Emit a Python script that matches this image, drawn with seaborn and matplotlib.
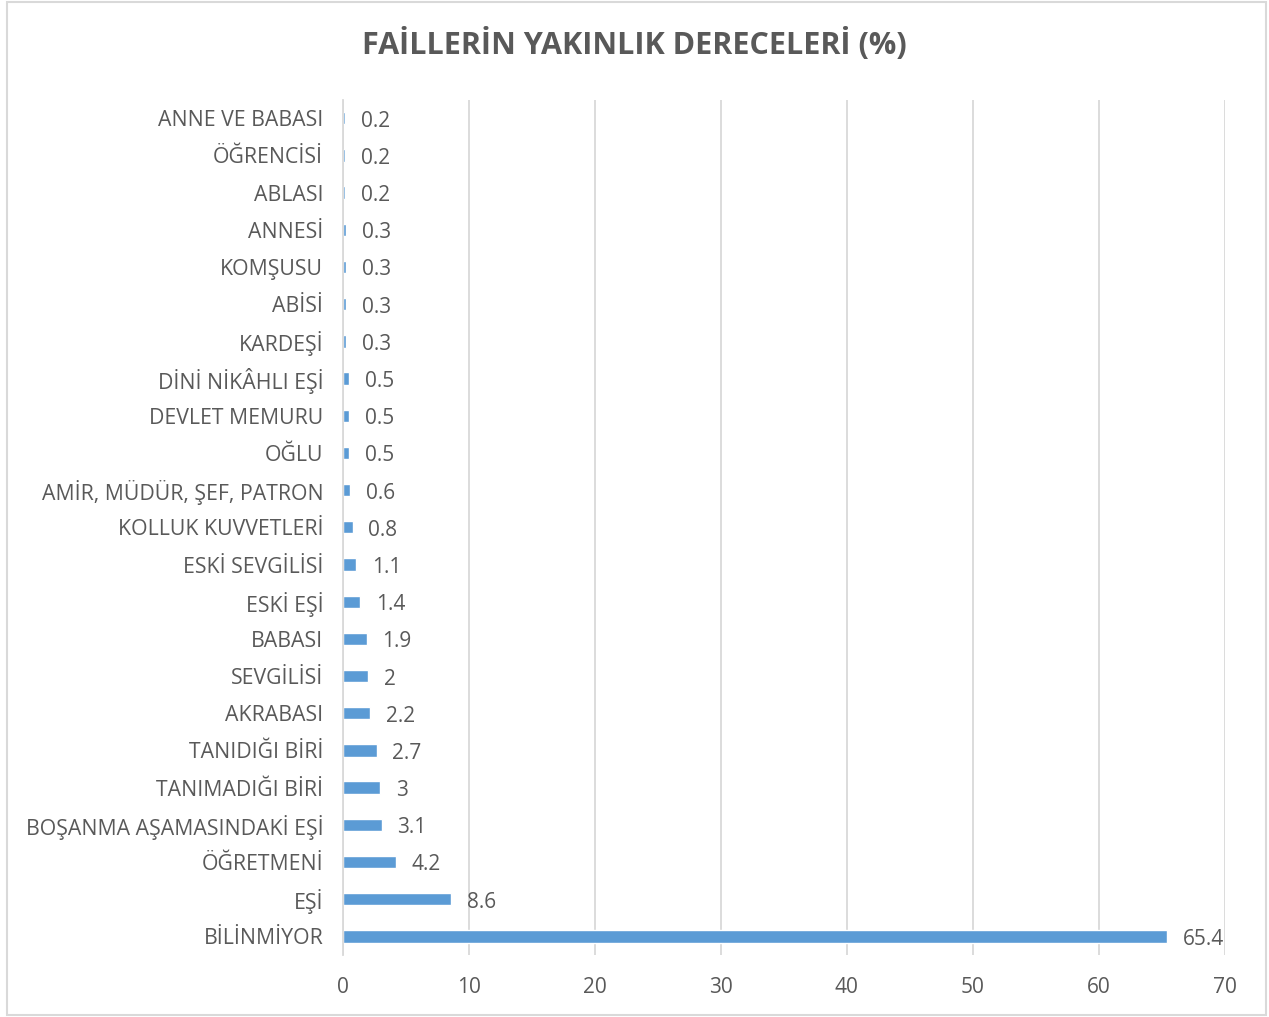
import matplotlib
matplotlib.use("Agg")
import matplotlib.pyplot as plt
import seaborn as sns
import pandas as pd

# categories top to bottom as in the chart
kategoriler = ["ANNE VE BABASI", "ÖĞRENCİSİ", "ABLASI", "ANNESİ", "KOMŞUSU", "ABİSİ",
               "KARDEŞİ", "DİNİ NİKÂHLI EŞİ", "DEVLET MEMURU", "OĞLU",
               "AMİR, MÜDÜR, ŞEF, PATRON", "KOLLUK KUVVETLERİ", "ESKİ SEVGİLİSİ",
               "ESKİ EŞİ", "BABASI", "SEVGİLİSİ", "AKRABASI", "TANIDIĞI BİRİ",
               "TANIMADIĞI BİRİ", "BOŞANMA AŞAMASINDAKİ EŞİ", "ÖĞRETMENİ", "EŞİ",
               "BİLİNMİYOR"]
yuzdeler = [0.2, 0.2, 0.2, 0.3, 0.3, 0.3, 0.3, 0.5, 0.5, 0.5, 0.6, 0.8, 1.1,
            1.4, 1.9, 2, 2.2, 2.7, 3, 3.1, 4.2, 8.6, 65.4]
etiketler = ["0.2", "0.2", "0.2", "0.3", "0.3", "0.3", "0.3", "0.5", "0.5", "0.5",
             "0.6", "0.8", "1.1", "1.4", "1.9", "2", "2.2", "2.7", "3", "3.1",
             "4.2", "8.6", "65.4"]
xticks = [0, 10, 20, 30, 40, 50, 60, 70]

df = pd.DataFrame({"kat": kategoriler, "val": yuzdeler})

sns.set_style("white")
plt.rcParams["font.family"] = ["Open Sans", "DejaVu Sans"]
grey = "#595959"

fig = plt.figure(figsize=(12.69, 10.17), dpi=100)
ax = fig.add_axes([0.270, 0.061, 0.695, 0.841])

sns.barplot(data=df, x="val", y="kat", orient="h", color="#5B9BD5",
            width=0.33, saturation=1, ax=ax)

for i, (v, t) in enumerate(zip(yuzdeler, etiketler)):
    ax.text(v + 1.25, i + 0.08, t, va="center", ha="left", fontsize=15, color=grey)

ax.set_xlim(0, 70)
ax.set_ylim(22.5, -0.5)
ax.set_xticks(xticks)
ax.set_xticklabels([str(x) for x in xticks], fontsize=15, color=grey)
ax.tick_params(axis="y", labelsize=15.3, labelcolor=grey, length=0, pad=14)
ax.tick_params(axis="x", length=0, pad=16)
ax.set_xlabel("")
ax.set_ylabel("")
ax.xaxis.grid(True, color="#d9d9d9", linewidth=1.3)
ax.set_axisbelow(True)
for s in ["top", "right", "bottom"]:
    ax.spines[s].set_visible(False)
ax.spines["left"].set_color("#d9d9d9")
ax.spines["left"].set_linewidth(1.3)

fig.text(0.5, 0.956, "FAİLLERİN YAKINLIK DERECELERİ (%)", ha="center", va="center",
         fontsize=22, fontweight="bold", color=grey)

# outer border
border = plt.Rectangle((0.0055, 0.002), 0.992, 0.996, transform=fig.transFigure,
                       fill=False, edgecolor="#d9d9d9", linewidth=1.5)
fig.patches.append(border)

fig.savefig("out.png", dpi=100)
